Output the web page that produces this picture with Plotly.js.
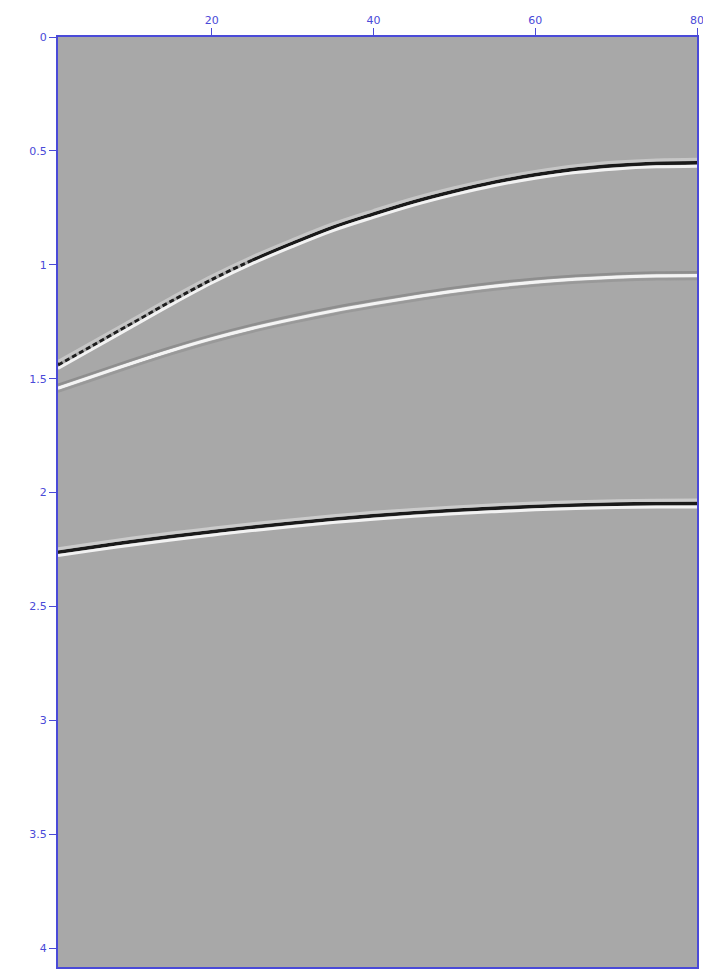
<!DOCTYPE html>
<html>
<head>
<meta charset="utf-8">
<script src="https://cdn.plot.ly/plotly-3.0.1.min.js"></script>
<style>html,body{margin:0;padding:0;background:#fff;}#chart{width:703px;height:970px;}</style>
</head>
<body>
<div id="chart"></div>
<script>
// Trace numbers where the event times were picked
const traceNo = [1, 5, 10, 15, 20, 25, 30, 35, 40, 45, 50, 55, 60, 65, 70, 75, 80];
// Two-way time (s) of each reflection
const event1Time = [1.44, 1.36, 1.26, 1.16, 1.065, 0.98, 0.905, 0.835, 0.777, 0.723, 0.677, 0.637, 0.605, 0.58, 0.564, 0.555, 0.552];
const event2Time = [1.542, 1.494, 1.434, 1.377, 1.325, 1.279, 1.239, 1.203, 1.171, 1.142, 1.116, 1.094, 1.076, 1.063, 1.054, 1.049, 1.048];
const event3Time = [2.262, 2.241, 2.216, 2.193, 2.172, 2.152, 2.134, 2.117, 2.102, 2.089, 2.078, 2.069, 2.061, 2.055, 2.051, 2.049, 2.048];
const xTicks = [20, 40, 60, 80];
const yTicks = [0, 0.5, 1, 1.5, 2, 2.5, 3, 3.5, 4];

const axisBlue = '#4a4ad8';
const yTop = 0, yBottom = 4.083;
const lobeShift = 0.015;

function line(x, y, color, width, axis, dash) {
  return {type: 'scatter', mode: 'lines', x: x, y: y, yaxis: axis || 'y',
    line: {color: color, width: width, dash: dash || 'solid', shape: 'spline', smoothing: 1},
    hoverinfo: 'skip', showlegend: false};
}

const nDot = 6; // first picks (traces 1..25) show a dotted, aliased look
const data = [
  // event 1: trough (black) with bright lobe below, faint lobe above
  line(traceNo, event1Time, '#c6c6c6', 3, 'y3'),
  line(traceNo, event1Time, '#f2f2f2', 3, 'y2'),
  line(traceNo.slice(0, nDot), event1Time.slice(0, nDot), '#1e1e1e', 4.2, 'y', '5px,3px'),
  line(traceNo.slice(nDot - 1), event1Time.slice(nDot - 1), '#1a1a1a', 3.6, 'y'),
  // event 2: peak (white) with dark side lobes
  line(traceNo, event2Time, '#8e8e8e', 2.5, 'y3'),
  line(traceNo, event2Time, '#999999', 2.5, 'y2'),
  line(traceNo, event2Time, '#f4f4f4', 3.2, 'y'),
  // event 3: trough (black) with bright lobe below, faint lobe above
  line(traceNo, event3Time, '#cbcbcb', 3, 'y3'),
  line(traceNo, event3Time, '#f2f2f2', 3, 'y2'),
  line(traceNo, event3Time, '#1a1a1a', 3.6, 'y')
];

const tickFont = {family: 'DejaVu Sans, Verdana, sans-serif', size: 11, color: axisBlue};
const layout = {
  width: 703, height: 970,
  margin: {l: 58, r: 6, t: 37, b: 3, pad: 0},
  paper_bgcolor: '#ffffff',
  plot_bgcolor: '#a8a8a8',
  showlegend: false,
  xaxis: {
    range: [1, 80], side: 'top', tickvals: xTicks, ticktext: xTicks.map(String),
    ticks: 'outside', ticklen: 7, tickcolor: axisBlue, tickwidth: 1,
    ticklabeloverflow: 'allow',
    showline: true, linecolor: axisBlue, linewidth: 2, mirror: true,
    showgrid: false, zeroline: false, tickfont: tickFont
  },
  yaxis: {
    range: [yBottom, yTop], tickvals: yTicks, ticktext: yTicks.map(String),
    ticks: 'outside', ticklen: 7, tickcolor: axisBlue, tickwidth: 1,
    showline: true, linecolor: axisBlue, linewidth: 2, mirror: true,
    showgrid: false, zeroline: false, tickfont: tickFont
  },
  yaxis2: {overlaying: 'y', range: [yBottom - lobeShift, yTop - lobeShift], visible: false, showgrid: false, zeroline: false},
  yaxis3: {overlaying: 'y', range: [yBottom + lobeShift, yTop + lobeShift], visible: false, showgrid: false, zeroline: false}
};

Plotly.newPlot('chart', data, layout, {displayModeBar: false, staticPlot: true});
</script>
</body>
</html>
